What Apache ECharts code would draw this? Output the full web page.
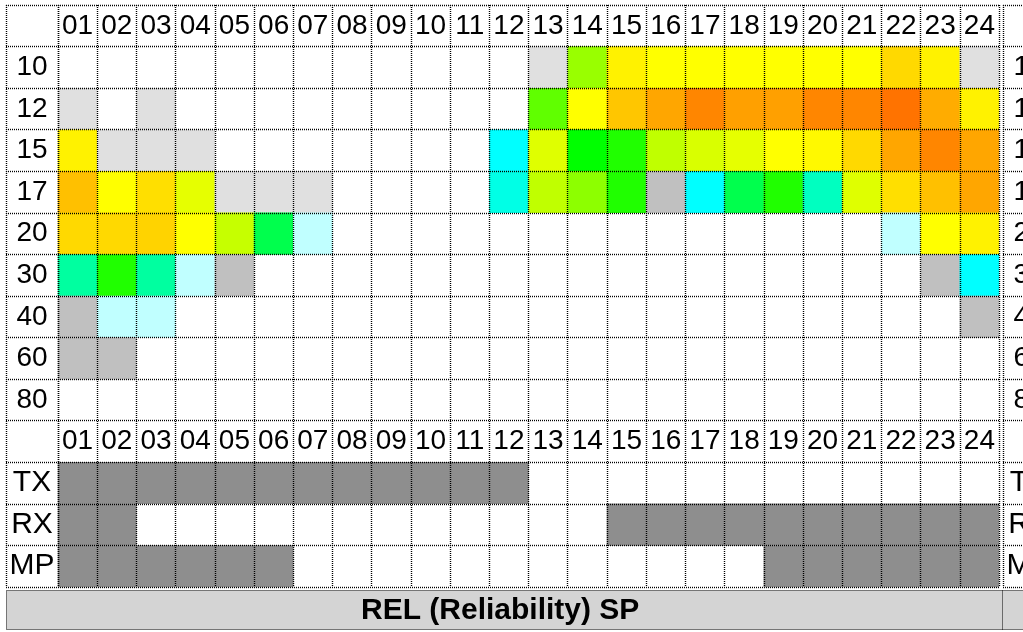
<!DOCTYPE html>
<html>
<head>
<meta charset="utf-8">
<title>REL (Reliability) SP</title>
<script src="https://cdn.jsdelivr.net/npm/echarts@6/dist/echarts.min.js"></script>
<style>
  html, body { margin: 0; padding: 0; background: #fff; }
  #chart { width: 1023px; height: 632px; }
</style>
</head>
<body>
<div id="chart"></div>
<script>
// hours along the top
const hours = ['01', '02', '03', '04', '05', '06', '07', '08', '09', '10', '11', '12',
  '13', '14', '15', '16', '17', '18', '19', '20', '21', '22', '23', '24']
// frequency rows (MHz) and link rows
const freqs = ['10', '12', '15', '17', '20', '30', '40', '60', '80']
const links = ['TX', 'RX', 'MP']

// REL per hour, one array per frequency (null = empty cell)
const rel10 = [null, null, null, null, null, null, null, null, null, null, null, null,
  0, 62, 71, 70, 70, 70, 70, 70, 70, 73, 71, 0]
const rel12 = [0, null, 0, null, null, null, null, null, null, null, null, null,
  57.5, 70, 74.5, 77, 79.5, 77.5, 77.5, 79.5, 79.5, 81, 76.5, 71]
const rel15 = [71, 0, 0, 0, null, null, null, null, null, null, null, 30,
  67.5, 50, 52.5, 65, 67, 68, 70, 70.5, 73, 77, 79.5, 77]
const rel17 = [75, 70, 72.5, 68, 0, 0, 0, null, null, null, null, 32,
  65, 61, 52.5, 10, 30, 44, 52.5, 35, 67.5, 72.5, 75, 77]
const rel20 = [73, 73, 73.5, 70, 65.5, 44, 20, null, null, null, null, null,
  null, null, null, null, null, null, null, null, null, 20, 70, 71]
const rel30 = [37.5, 52.5, 37.5, 20, 10, null, null, null, null, null, null, null,
  null, null, null, null, null, null, null, null, null, null, 10, 30]
const rel40 = [10, 20, 20, null, null, null, null, null, null, null, null, null,
  null, null, null, null, null, null, null, null, null, null, null, 10]
const rel60 = [10, 10, null, null, null, null, null, null, null, null, null, null,
  null, null, null, null, null, null, null, null, null, null, null, null]
const rel80 = [null, null, null, null, null, null, null, null, null, null, null, null,
  null, null, null, null, null, null, null, null, null, null, null, null]
const relRows = [rel10, rel12, rel15, rel17, rel20, rel30, rel40, rel60, rel80]

// TX / RX / MP flags per hour
const tx = [1, 1, 1, 1, 1, 1, 1, 1, 1, 1, 1, 1, 0, 0, 0, 0, 0, 0, 0, 0, 0, 0, 0, 0]
const rx = [1, 1, 0, 0, 0, 0, 0, 0, 0, 0, 0, 0, 0, 0, 1, 1, 1, 1, 1, 1, 1, 1, 1, 1]
const mp = [1, 1, 1, 1, 1, 1, 0, 0, 0, 0, 0, 0, 0, 0, 0, 0, 0, 0, 1, 1, 1, 1, 1, 1]
const linkRows = [tx, rx, mp]

// row order of the sheet: header, frequencies, header, links
const rows = ['h1', ...freqs, 'h2', ...links]

const relData = []
relRows.forEach((row, i) => {
  row.forEach((v, j) => {
    if (v !== null) relData.push([hours[j], freqs[i], v])
  })
})
const linkData = []
linkRows.forEach((row, i) => {
  row.forEach((v, j) => {
    if (v) linkData.push([hours[j], links[i], v])
  })
})
const headData = []
hours.forEach(h => {
  headData.push([h, 'h1'])
  headData.push([h, 'h2'])
})

const font = 'Liberation Sans, Arial, sans-serif'
const dotted = { color: '#000', width: 1.4, type: [1, 1] }
const gridBase = { top: 5, height: 582, containLabel: false, outerBoundsMode: 'none' }

// category axis that only draws dotted cell borders
function cellAxis(gridIndex, data, extra) {
  return Object.assign({
    gridIndex: gridIndex,
    type: 'category',
    data: data,
    z: 5,
    axisLine: { show: false },
    axisTick: { show: false },
    axisLabel: { show: false },
    splitLine: { show: true, lineStyle: dotted }
  }, extra || {})
}

// row labels, centred in the label column
const rowLabel = {
  show: true,
  inside: true,
  margin: 26,
  align: 'center',
  interval: 0,
  fontFamily: font,
  fontSize: 28,
  color: '#000',
  formatter: v => (v === 'h1' || v === 'h2') ? '' : v
}
const rowCats = rows.map(r => links.includes(r)
  ? { value: r, textStyle: { fontSize: 30, align: 'center', fontFamily: font, color: '#000' } }
  : r)

const chart = echarts.init(document.getElementById('chart'))
chart.setOption({
  animation: false,
  backgroundColor: '#fff',
  title: {
    text: 'REL (Reliability) SP',
    left: 361,
    top: 596,
    padding: 0,
    z: 10,
    textStyle: { fontFamily: font, fontSize: 30, fontWeight: 'bold', color: '#000' }
  },
  grid: [
    Object.assign({ left: 58, width: 941 }, gridBase),
    Object.assign({ left: 6, width: 52 }, gridBase),
    Object.assign({ left: 1003, width: 52 }, gridBase)
  ],
  xAxis: [
    cellAxis(0, hours),
    cellAxis(1, ['']),
    cellAxis(2, [''])
  ],
  yAxis: [
    cellAxis(0, rows, { inverse: true }),
    cellAxis(1, rowCats, { inverse: true, axisLabel: rowLabel }),
    cellAxis(2, rowCats, { inverse: true, axisLabel: rowLabel })
  ],
  visualMap: [
    {
      type: 'continuous',
      seriesIndex: 0,
      min: 0,
      max: 90,
      show: false,
      inRange: {
        color: ['#e0e0e0', '#c0c0c0', '#c0ffff', '#00ffff', '#00ff80',
          '#00ff00', '#80ff00', '#ffff00', '#ff8000', '#ff0000']
      }
    },
    {
      type: 'piecewise',
      seriesIndex: 1,
      show: false,
      pieces: [{ value: 1, color: '#8e8e8e' }]
    }
  ],
  series: [
    {
      name: 'REL',
      type: 'heatmap',
      xAxisIndex: 0,
      yAxisIndex: 0,
      data: relData,
      emphasis: { disabled: true }
    },
    {
      name: 'Link',
      type: 'heatmap',
      xAxisIndex: 0,
      yAxisIndex: 0,
      data: linkData,
      emphasis: { disabled: true }
    },
    {
      name: 'Hour',
      type: 'scatter',
      xAxisIndex: 0,
      yAxisIndex: 0,
      data: headData,
      symbolSize: 1,
      silent: true,
      itemStyle: { color: 'rgba(255,255,255,0)', opacity: 1 },
      label: {
        show: true,
        position: 'inside',
        formatter: p => p.value[0],
        fontFamily: font,
        fontSize: 28,
        color: '#000',
        opacity: 1,
        textBorderWidth: 0
      }
    }
  ],
  graphic: [
    {
      type: 'rect',
      z: 0,
      shape: { x: 6.5, y: 590.5, width: 1020, height: 39 },
      style: { fill: '#d4d4d4', stroke: '#000', lineWidth: 1, lineDash: [1, 1] }
    },
    {
      type: 'line',
      z: 1,
      shape: { x1: 1002.5, y1: 590.5, x2: 1002.5, y2: 630 },
      style: { stroke: '#000', lineWidth: 1, lineDash: [1, 1] }
    }
  ]
})
</script>
</body>
</html>
